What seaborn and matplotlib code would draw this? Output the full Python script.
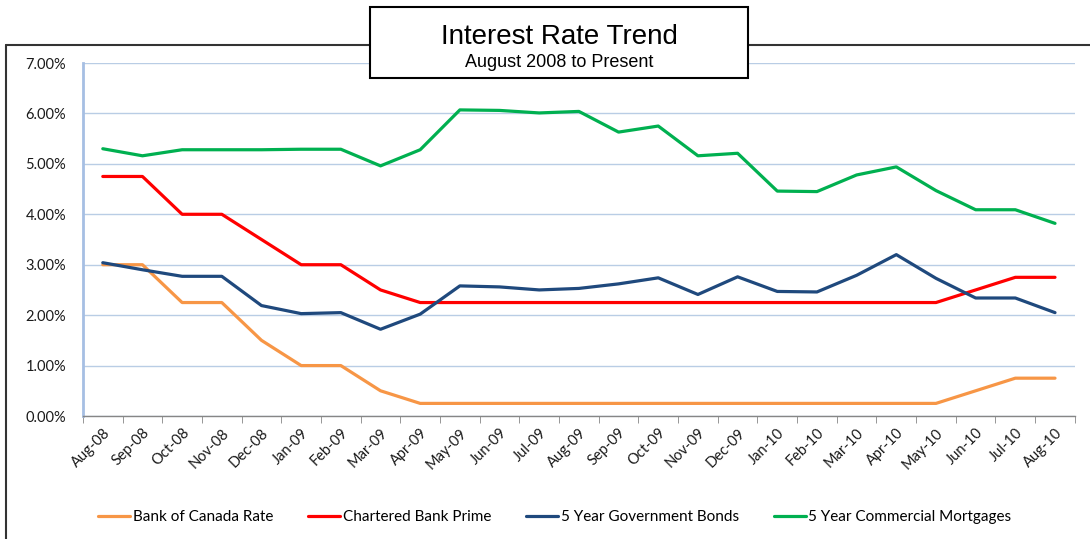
import numpy as np
import pandas as pd
import seaborn as sns
import matplotlib.pyplot as plt
from matplotlib.patches import Rectangle
from matplotlib.lines import Line2D
from matplotlib.ticker import FuncFormatter

months = ['Aug-08', 'Sep-08', 'Oct-08', 'Nov-08', 'Dec-08', 'Jan-09', 'Feb-09', 'Mar-09',
          'Apr-09', 'May-09', 'Jun-09', 'Jul-09', 'Aug-09', 'Sep-09', 'Oct-09', 'Nov-09',
          'Dec-09', 'Jan-10', 'Feb-10', 'Mar-10', 'Apr-10', 'May-10', 'Jun-10', 'Jul-10', 'Aug-10']
boc_rate = [3.00, 3.00, 2.25, 2.25, 1.50, 1.00, 1.00, 0.50, 0.25, 0.25, 0.25, 0.25, 0.25,
            0.25, 0.25, 0.25, 0.25, 0.25, 0.25, 0.25, 0.25, 0.25, 0.50, 0.75, 0.75]
prime = [4.75, 4.75, 4.00, 4.00, 3.50, 3.00, 3.00, 2.50, 2.25, 2.25, 2.25, 2.25, 2.25,
         2.25, 2.25, 2.25, 2.25, 2.25, 2.25, 2.25, 2.25, 2.25, 2.50, 2.75, 2.75]
gov_bonds = [3.04, 2.90, 2.77, 2.77, 2.19, 2.03, 2.05, 1.72, 2.02, 2.58, 2.56, 2.50, 2.53,
             2.62, 2.74, 2.41, 2.76, 2.47, 2.46, 2.79, 3.20, 2.73, 2.34, 2.34, 2.05]
mortgages = [5.30, 5.16, 5.28, 5.28, 5.28, 5.29, 5.29, 4.96, 5.28, 6.07, 6.06, 6.01, 6.04,
             5.63, 5.75, 5.16, 5.21, 4.46, 4.45, 4.78, 4.94, 4.47, 4.09, 4.09, 3.82]
series_names = ['Bank of Canada Rate', 'Chartered Bank Prime', '5 Year Government Bonds',
                '5 Year Commercial Mortgages']
colors = ['#F79646', '#FF0000', '#1F497D', '#00B050']

frames = []
for name, vals in zip(series_names, [boc_rate, prime, gov_bonds, mortgages]):
    frames.append(pd.DataFrame({'month': months, 'rate': vals, 'series': name}))
df = pd.concat(frames, ignore_index=True)
df['pos'] = df['month'].map({m: i for i, m in enumerate(months)})

sns.set_style('white')
plt.rcParams['font.family'] = ['Lato', 'DejaVu Sans']
plt.rcParams['text.color'] = 'black'
plt.rcParams['xtick.color'] = '#1a1a1a'
plt.rcParams['ytick.color'] = '#1a1a1a'

fig = plt.figure(figsize=(10.9, 5.39), dpi=100)
ax = fig.add_axes([0.0761, 0.2282, 0.910, 0.6549])

sns.lineplot(data=df, x='pos', y='rate', hue='series', hue_order=series_names,
             palette=colors, linewidth=2.3, sort=False, legend=False, ax=ax)

ax.set_xlim(-0.5, len(months) - 0.5)
ax.set_ylim(0, 7)
ax.set_yticks(np.arange(0, 8, 1))
ax.yaxis.set_major_formatter(FuncFormatter(lambda v, p: f'{v:.2f}%'))
ax.set_xticks(range(len(months)))
ax.set_xticklabels(months, rotation=45, ha='right', rotation_mode='anchor', fontsize=10.5)
ax.set_xticks(np.arange(-0.5, len(months), 1), minor=True)
ax.tick_params(axis='x', which='major', length=0, pad=7)
ax.tick_params(axis='x', which='minor', length=5, color='#868686', direction='out', bottom=True)
ax.tick_params(axis='y', length=0, labelsize=10.5, pad=12)
ax.set_xlabel('')
ax.set_ylabel('')

ax.grid(axis='y', color='#B9CDE5', linewidth=1)
ax.set_axisbelow(True)
for s in ['top', 'right']:
    ax.spines[s].set_visible(False)
ax.spines['left'].set_color('#A6BFE3')
ax.spines['left'].set_linewidth(2)
ax.spines['bottom'].set_color('#868686')
ax.spines['bottom'].set_linewidth(1)

# outer chart frame
fig.add_artist(Line2D([6 / 1090, 1.0], [1 - 45 / 539, 1 - 45 / 539], color='#333333',
                      linewidth=1.5, transform=fig.transFigure))
fig.add_artist(Line2D([6 / 1090, 6 / 1090], [0, 1 - 45 / 539], color='#333333',
                      linewidth=1.5, transform=fig.transFigure))

# title box
bx0, bx1, by0, by1 = 370 / 1090, 748 / 1090, 1 - 78 / 539, 1 - 7 / 539
fig.add_artist(Rectangle((bx0, by0), bx1 - bx0, by1 - by0, transform=fig.transFigure,
                         facecolor='white', edgecolor='black', linewidth=1.5, zorder=5))
fig.text((bx0 + bx1) / 2, 1 - 44 / 539, 'Interest Rate Trend', ha='center', va='baseline',
         fontsize=20, family='Liberation Sans', color='black', zorder=6)
fig.text((bx0 + bx1) / 2, 1 - 67 / 539, 'August 2008 to Present', ha='center', va='baseline',
         fontsize=13, family='Liberation Sans', color='black', zorder=6)

handles = [Line2D([], [], color=c, linewidth=2.3) for c in colors]
fig.legend(handles, series_names, loc='center', bbox_to_anchor=(0.509, 0.041), ncol=4,
           frameon=False, fontsize=11, handlelength=2.1, handletextpad=0.15, columnspacing=2.3)

fig.savefig('out.png', dpi=100)
